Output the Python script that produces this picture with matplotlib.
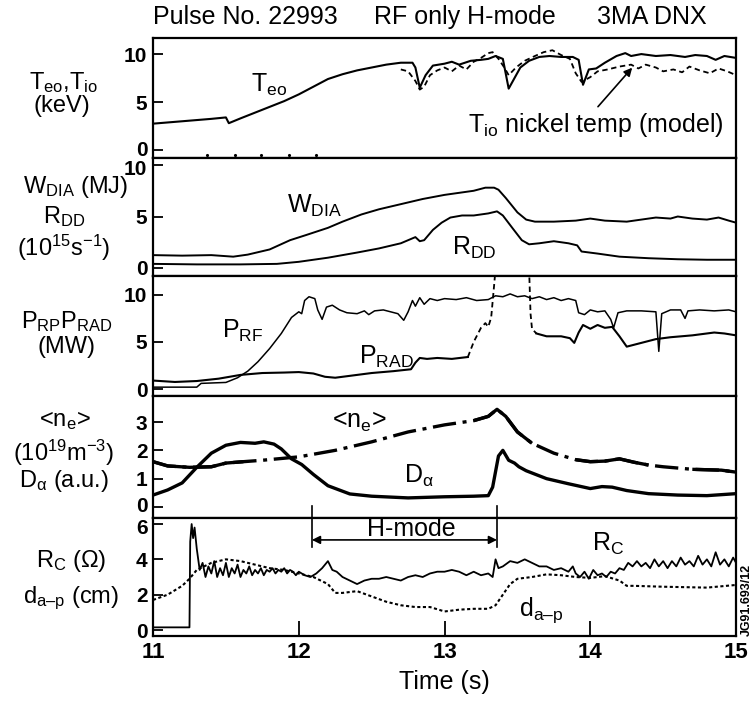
import matplotlib
matplotlib.use("Agg")
import matplotlib.pyplot as plt
from matplotlib.transforms import blended_transform_factory, ScaledTranslation

plt.rcParams['font.family'] = ['Liberation Sans', 'DejaVu Sans']
plt.rcParams['mathtext.fontset'] = 'custom'
plt.rcParams['mathtext.rm'] = 'Liberation Sans'
plt.rcParams['mathtext.it'] = 'Liberation Sans'
plt.rcParams['mathtext.bf'] = 'Liberation Sans:bold'
plt.rcParams['mathtext.default'] = 'regular'

# ---- panel 1: central temperatures (keV) ----
teo_pts = [(11.00, 2.75), (11.20, 3.00), (11.40, 3.25), (11.50, 3.40), (11.52, 2.80),
           (11.60, 3.30), (11.70, 3.90), (11.80, 4.50), (11.90, 5.10), (12.00, 5.80),
           (12.10, 6.60), (12.20, 7.40), (12.30, 7.90), (12.40, 8.30), (12.50, 8.60),
           (12.60, 8.90), (12.70, 9.10), (12.78, 9.10), (12.80, 8.60), (12.83, 6.50),
           (12.87, 7.80), (12.92, 8.80), (13.00, 9.00), (13.05, 9.20), (13.10, 8.90),
           (13.18, 9.30), (13.25, 9.40), (13.30, 9.50), (13.35, 9.80), (13.40, 9.50),
           (13.44, 6.40), (13.48, 7.50), (13.52, 8.60), (13.58, 9.30), (13.65, 9.70),
           (13.72, 9.80), (13.80, 9.70), (13.88, 9.70), (13.92, 9.40), (13.95, 6.80),
           (13.99, 8.40), (14.04, 8.50), (14.10, 9.10), (14.18, 9.80), (14.24, 10.1),
           (14.28, 9.80), (14.35, 10.0), (14.45, 9.80), (14.55, 9.90), (14.65, 9.70),
           (14.72, 9.90), (14.80, 9.80), (14.86, 9.40), (14.92, 9.80), (15.00, 9.60)]
tio_pts = [(12.70, 8.40), (12.75, 8.20), (12.80, 7.20), (12.83, 6.30), (12.86, 6.60),
           (12.90, 7.80), (12.95, 8.30), (13.00, 8.60), (13.05, 8.20), (13.10, 8.80),
           (13.15, 8.40), (13.20, 9.20), (13.25, 9.60), (13.30, 10.1), (13.33, 10.2),
           (13.37, 9.50), (13.41, 8.60), (13.44, 7.80), (13.49, 8.60), (13.55, 9.30),
           (13.62, 9.80), (13.68, 10.2), (13.74, 10.4), (13.80, 9.90), (13.86, 9.50),
           (13.90, 8.00), (13.94, 7.10), (14.00, 7.60), (14.05, 8.20), (14.12, 8.40),
           (14.20, 8.70), (14.28, 8.90), (14.33, 8.50), (14.38, 8.90), (14.45, 8.60),
           (14.50, 8.20), (14.57, 8.40), (14.63, 8.10), (14.68, 8.70), (14.75, 8.30),
           (14.82, 8.00), (14.88, 8.50), (14.94, 8.20), (15.00, 7.80)]
marker_times = [11.37, 11.56, 11.74, 11.93, 12.12]

# ---- panel 2: stored energy and neutron rate ----
wdia_pts = [(11.00, 1.25), (11.20, 1.20), (11.40, 1.25), (11.55, 1.10), (11.65, 1.30),
            (11.80, 1.80), (11.94, 2.70), (12.05, 3.20), (12.20, 3.90), (12.30, 4.50),
            (12.43, 5.20), (12.55, 5.70), (12.70, 6.20), (12.85, 6.70), (13.00, 7.10),
            (13.10, 7.30), (13.20, 7.50), (13.28, 7.80), (13.34, 7.80), (13.37, 7.60),
            (13.42, 6.80), (13.50, 5.40), (13.56, 4.70), (13.62, 4.50), (13.75, 4.50),
            (13.90, 4.60), (14.00, 4.80), (14.10, 4.60), (14.25, 4.50), (14.35, 4.70),
            (14.45, 4.90), (14.55, 4.80), (14.60, 5.00), (14.70, 4.80), (14.80, 4.70),
            (14.88, 4.90), (14.95, 4.60), (15.00, 4.40)]
rdd_pts = [(11.00, 0.40), (11.30, 0.35), (11.60, 0.35), (11.85, 0.40), (12.00, 0.60),
           (12.20, 1.00), (12.40, 1.50), (12.55, 1.90), (12.70, 2.40), (12.80, 3.00),
           (12.83, 2.60), (12.86, 2.70), (12.92, 3.70), (12.98, 4.40), (13.04, 4.90),
           (13.12, 5.10), (13.20, 5.10), (13.30, 5.30), (13.36, 5.50), (13.40, 5.10),
           (13.47, 3.80), (13.53, 2.70), (13.58, 2.30), (13.65, 2.40), (13.75, 2.60),
           (13.85, 2.40), (13.91, 2.20), (13.94, 1.60), (14.05, 1.40), (14.20, 1.10),
           (14.40, 0.95), (14.60, 0.85), (14.80, 0.80), (15.00, 0.80)]

# ---- panel 3: RF and radiated power (MW) ----
prf_pts = [(11.00, 0.20), (11.30, 0.20), (11.33, 0.60), (11.50, 0.70), (11.58, 1.20),
           (11.65, 1.90), (11.72, 2.90), (11.80, 4.30), (11.88, 5.90), (11.95, 7.60),
           (12.00, 8.20), (12.02, 8.00), (12.04, 9.40), (12.07, 9.80), (12.11, 9.60),
           (12.13, 8.40), (12.16, 7.40), (12.19, 8.70), (12.23, 8.90), (12.28, 8.40),
           (12.33, 8.10), (12.40, 8.00), (12.45, 8.30), (12.48, 7.90), (12.52, 8.30),
           (12.58, 8.40), (12.63, 8.20), (12.68, 8.00), (12.72, 7.30), (12.75, 8.20),
           (12.78, 9.40), (12.80, 8.80), (12.83, 9.70), (12.86, 9.00), (12.90, 9.60),
           (12.95, 9.40), (13.00, 9.60), (13.08, 9.50), (13.15, 9.70), (13.22, 9.40),
           (13.30, 9.50), (13.35, 9.90), (13.40, 9.80), (13.45, 10.1), (13.50, 9.80),
           (13.55, 9.90), (13.60, 9.60), (13.65, 9.80), (13.70, 9.50), (13.75, 9.70),
           (13.80, 9.40), (13.85, 9.60), (13.90, 9.40), (13.92, 8.10), (13.96, 7.90),
           (14.00, 8.40), (14.05, 8.20), (14.10, 8.30), (14.14, 7.40), (14.16, 6.50),
           (14.19, 8.10), (14.25, 8.30), (14.35, 8.30), (14.45, 8.20), (14.47, 4.00),
           (14.49, 8.00), (14.55, 8.40), (14.62, 8.40), (14.65, 7.50), (14.67, 8.30),
           (14.75, 8.40), (14.85, 8.30), (14.95, 8.40), (15.00, 8.20)]
prad_pts = [(11.00, 0.90), (11.15, 0.75), (11.30, 0.85), (11.45, 1.10), (11.60, 1.50),
            (11.75, 1.70), (11.90, 1.75), (12.00, 1.80), (12.10, 1.65), (12.18, 1.30),
            (12.25, 1.20), (12.35, 1.40), (12.50, 1.70), (12.65, 1.90), (12.77, 2.10),
            (12.80, 2.80), (12.83, 3.30), (12.88, 3.20), (12.95, 3.30), (13.05, 3.20),
            (13.16, 3.40)]
prad_dash_rise = [(13.16, 3.40), (13.20, 5.00), (13.25, 6.50), (13.28, 7.00), (13.30, 6.60),
                  (13.32, 7.60), (13.34, 11.0), (13.35, 12.8)]
prad_dash_fall = [(13.58, 12.8), (13.59, 8.00), (13.60, 6.40), (13.63, 5.90)]
prad_late_pts = [(13.63, 5.90), (13.70, 5.60), (13.80, 5.60), (13.86, 5.40), (13.89, 4.90),
                 (13.92, 6.00), (13.95, 6.80), (14.00, 6.40), (14.05, 6.80), (14.10, 6.50),
                 (14.15, 6.60), (14.20, 5.60), (14.25, 4.50), (14.35, 4.90), (14.45, 5.30),
                 (14.55, 5.50), (14.70, 5.70), (14.85, 6.00), (14.92, 5.90), (15.00, 5.70)]

# ---- panel 4: line-averaged density and D-alpha ----
ne_pts = [(11.00, 1.60), (11.10, 1.45), (11.25, 1.40), (11.40, 1.42), (11.50, 1.55),
          (11.62, 1.60), (11.75, 1.65), (12.00, 1.77), (12.25, 2.00), (12.50, 2.30),
          (12.75, 2.65), (13.00, 2.90), (13.20, 3.05), (13.30, 3.20), (13.36, 3.45),
          (13.42, 3.20), (13.50, 2.65), (13.60, 2.25), (13.75, 1.90), (13.90, 1.67),
          (14.00, 1.60), (14.10, 1.62), (14.20, 1.70), (14.30, 1.58), (14.40, 1.48),
          (14.50, 1.42), (14.70, 1.33), (14.90, 1.30), (15.00, 1.23)]
# stretches of the density trace that are drawn unbroken
ne_solid_spans = [(11.00, 11.62), (13.20, 13.60), (13.90, 14.40), (14.70, 15.00)]
dalpha_pts = [(11.00, 0.42), (11.10, 0.60), (11.20, 0.85), (11.30, 1.40), (11.40, 1.90),
              (11.50, 2.18), (11.60, 2.28), (11.70, 2.25), (11.76, 2.30), (11.83, 2.22),
              (11.88, 2.05), (11.95, 1.70), (12.02, 1.50), (12.10, 1.15), (12.20, 0.75),
              (12.35, 0.46), (12.50, 0.38), (12.75, 0.32), (13.00, 0.36), (13.20, 0.38),
              (13.30, 0.40), (13.33, 0.70), (13.37, 1.80), (13.40, 2.00), (13.44, 1.65),
              (13.48, 1.55), (13.51, 1.42), (13.56, 1.28), (13.70, 1.00), (13.85, 0.82),
              (14.00, 0.65), (14.08, 0.72), (14.15, 0.70), (14.25, 0.58), (14.40, 0.47),
              (14.60, 0.42), (14.80, 0.40), (15.00, 0.47)]

# ---- panel 5: coupling resistance and antenna-plasma gap ----
rc_pts = [(11.00, 0.15), (11.25, 0.15), (11.255, 5.0), (11.265, 6.0), (11.275, 5.2),
          (11.285, 5.8), (11.30, 4.6), (11.32, 3.4), (11.34, 3.8), (11.36, 3.0),
          (11.38, 3.6), (11.40, 3.2), (11.42, 3.9), (11.44, 3.0), (11.46, 3.5),
          (11.48, 3.1), (11.50, 3.8), (11.52, 3.0), (11.54, 3.5), (11.56, 3.2),
          (11.58, 3.7), (11.60, 3.0), (11.62, 3.4), (11.64, 3.2), (11.66, 3.6),
          (11.68, 3.1), (11.70, 3.4), (11.72, 3.2), (11.74, 3.5), (11.76, 3.1),
          (11.78, 3.4), (11.80, 3.3), (11.82, 3.5), (11.84, 3.2), (11.86, 3.4),
          (11.88, 3.3), (11.90, 3.5), (11.92, 3.2), (11.94, 3.4), (11.96, 3.3),
          (11.98, 3.1), (12.00, 3.3), (12.04, 3.1), (12.08, 3.0), (12.12, 3.2),
          (12.16, 3.5), (12.20, 3.9), (12.23, 3.4), (12.26, 3.3), (12.30, 3.0),
          (12.35, 2.8), (12.40, 2.6), (12.45, 2.8), (12.50, 2.9), (12.55, 2.9),
          (12.60, 3.0), (12.65, 2.9), (12.70, 2.8), (12.75, 3.0), (12.80, 3.1),
          (12.85, 3.0), (12.90, 3.2), (12.95, 3.3), (13.00, 3.3), (13.05, 3.4),
          (13.10, 3.3), (13.15, 3.1), (13.20, 3.3), (13.25, 3.1), (13.30, 3.2),
          (13.33, 3.0), (13.35, 4.0), (13.37, 3.5), (13.40, 3.6), (13.45, 3.9),
          (13.50, 3.8), (13.55, 4.0), (13.60, 3.8), (13.65, 3.6), (13.70, 3.6),
          (13.75, 3.4), (13.80, 3.5), (13.85, 3.3), (13.88, 3.6), (13.90, 3.2),
          (13.93, 3.0), (13.96, 3.3), (13.99, 2.9), (14.02, 3.4), (14.05, 3.1),
          (14.08, 3.2), (14.11, 3.0), (14.14, 3.3), (14.17, 3.2), (14.20, 3.5),
          (14.23, 3.4), (14.26, 3.8), (14.29, 3.6), (14.32, 3.9), (14.35, 3.6),
          (14.38, 3.8), (14.41, 3.5), (14.44, 4.0), (14.47, 3.6), (14.50, 3.9),
          (14.53, 3.5), (14.56, 3.9), (14.59, 3.6), (14.62, 4.1), (14.65, 3.7),
          (14.68, 3.9), (14.71, 3.6), (14.74, 4.2), (14.77, 3.7), (14.80, 4.0),
          (14.83, 3.6), (14.86, 4.4), (14.89, 3.7), (14.92, 4.0), (14.95, 3.6),
          (14.98, 4.1), (15.00, 3.8)]
dap_pts = [(11.00, 1.70), (11.10, 2.00), (11.20, 2.50), (11.25, 2.90), (11.30, 3.40),
           (11.40, 3.80), (11.50, 4.00), (11.60, 3.90), (11.70, 3.70), (11.80, 3.50),
           (11.90, 3.40), (12.00, 3.20), (12.10, 3.00), (12.20, 2.60), (12.25, 2.10),
           (12.30, 2.10), (12.40, 2.20), (12.50, 1.90), (12.60, 1.60), (12.70, 1.40),
           (12.80, 1.30), (12.90, 1.30), (13.00, 1.05), (13.10, 1.15), (13.20, 1.20),
           (13.30, 1.20), (13.35, 1.40), (13.40, 2.00), (13.45, 2.60), (13.50, 2.90),
           (13.60, 3.00), (13.70, 3.15), (13.80, 3.10), (13.90, 3.00), (14.00, 2.95),
           (14.10, 3.05), (14.20, 2.80), (14.25, 2.50), (14.30, 2.50), (14.50, 2.45),
           (14.80, 2.40), (15.00, 2.55)]
hmode_start, hmode_end = 12.09, 13.36

time_ticks = [11, 12, 13, 14, 15]

TICK_FS = 15
LABEL_FS = 17
INNER_FS = 18


def xy(pts):
    return [p[0] for p in pts], [p[1] for p in pts]


fig = plt.figure(figsize=(7.52, 7.02), dpi=100)
left, width = 0.2035, 0.7753
# (bottom, height, ylim, yticks) for each panel, top to bottom
panels = [
    (0.7749, 0.1709, (-0.83, 11.67), [0, 5, 10]),
    (0.6068, 0.1681, (-0.78, 10.68), [0, 5, 10]),
    (0.4359, 0.1709, (-0.74, 12.0), [0, 5, 10]),
    (0.2621, 0.1738, (-0.39, 3.92), [0, 1, 2, 3]),
    (0.0940, 0.1681, (-0.34, 6.34), [0, 2, 4, 6]),
]
axes = []
for bottom, height, ylim, yt in panels:
    ax = fig.add_axes([left, bottom, width, height])
    ax.set_xlim(11, 15)
    ax.set_ylim(*ylim)
    ax.set_yticks(yt, labels=[str(v) for v in yt], fontsize=TICK_FS, fontweight='bold')
    ax.tick_params(axis='y', direction='in', length=7, width=1.3, pad=4)
    ax.set_xticks([])
    for s in ax.spines.values():
        s.set_linewidth(1.6)
    axes.append(ax)
ax1, ax2, ax3, ax4, ax5 = axes

# the stacked panels leave the end tick labels nearly touching; ease them apart
for ax, idx, dy in ((ax1, 0, 2), (ax2, -1, -2), (ax4, 0, 2), (ax5, -1, -2)):
    lbl = ax.get_yticklabels()[idx]
    lbl.set_transform(lbl.get_transform() + ScaledTranslation(0, dy / 100, fig.dpi_scale_trans))

# left-hand quantity labels: (text, axes x, data y)
side_labels = [
    (ax1, [("T$_{eo}$,T$_{io}$", -0.153, 7.0), ("(keV)", -0.157, 4.6)]),
    (ax2, [("W$_{DIA}$ (MJ)", -0.132, 7.9), ("R$_{DD}$", -0.153, 5.0),
           ("(10$^{15}$s$^{-1}$)", -0.153, 2.0)]),
    (ax3, [("P$_{RP}$P$_{RAD}$", -0.148, 7.2), ("(MW)", -0.148, 4.5)]),
    (ax4, [("<n$_e$>", -0.151, 3.05), ("(10$^{19}$m$^{-3}$)", -0.153, 1.9),
           ("D$_{α}$ (a.u.)", -0.153, 0.9)]),
    (ax5, [("R$_C$ (Ω)", -0.141, 3.9), ("d$_{a\u2013p}$ (cm)", -0.141, 1.8)]),
]
for ax, rows in side_labels:
    tr = blended_transform_factory(ax.transAxes, ax.transData)
    for txt, xa, yv in rows:
        ax.text(xa, yv, txt, transform=tr, ha='center', va='center', fontsize=LABEL_FS)

# panel 1
t, v = xy(teo_pts)
ax1.plot(t, v, color='k', lw=1.5)
t, v = xy(tio_pts)
ax1.plot(t, v, color='k', lw=1.3, ls=(0, (3, 2)))
ax1.plot(marker_times, [-0.5] * len(marker_times), 'k.', ms=2.5)
ax1.text(11.67, 6.8, "T$_{eo}$", fontsize=INNER_FS, ha='left', va='center')
ax1.text(13.16, 2.6, "T$_{io}$ nickel temp (model)", fontsize=INNER_FS, ha='left', va='center')
ax1.annotate("", xy=(14.30, 8.8), xytext=(14.04, 4.3),
             arrowprops=dict(arrowstyle='-|>', color='k', lw=1.2, mutation_scale=12))

# panel 2
t, v = xy(wdia_pts)
ax2.plot(t, v, color='k', lw=1.4)
t, v = xy(rdd_pts)
ax2.plot(t, v, color='k', lw=1.4)
ax2.text(11.92, 6.0, "W$_{DIA}$", fontsize=INNER_FS, ha='left', va='center')
ax2.text(13.05, 2.0, "R$_{DD}$", fontsize=INNER_FS, ha='left', va='center')

# panel 3
t, v = xy(prf_pts)
ax3.plot(t, v, color='k', lw=1.1)
t, v = xy(prad_pts)
ax3.plot(t, v, color='k', lw=1.5)
for seg in (prad_dash_rise, prad_dash_fall):
    t, v = xy(seg)
    ax3.plot(t, v, color='k', lw=1.3, ls=(0, (3, 2)))
t, v = xy(prad_late_pts)
ax3.plot(t, v, color='k', lw=1.5)
ax3.text(11.47, 6.2, "P$_{RF}$", fontsize=INNER_FS, ha='left', va='center')
ax3.text(12.41, 3.4, "P$_{RAD}$", fontsize=INNER_FS, ha='left', va='center')

# panel 4: dash-dot density trace with unbroken stretches laid over it
t, v = xy(ne_pts)
ax4.plot(t, v, color='k', lw=2.4, ls=(0, (7, 2, 1.2, 2)))
for t0, t1 in ne_solid_spans:
    span = [p for p in ne_pts if t0 <= p[0] <= t1]
    t, v = xy(span)
    ax4.plot(t, v, color='k', lw=2.4, solid_capstyle='butt')
t, v = xy(dalpha_pts)
ax4.plot(t, v, color='k', lw=2.4)
ax4.text(12.23, 3.0, "<n$_e$>", fontsize=INNER_FS, ha='left', va='center')
ax4.text(12.72, 1.1, "D$_{α}$", fontsize=INNER_FS, ha='left', va='center')

# panel 5
t, v = xy(rc_pts)
ax5.plot(t, v, color='k', lw=1.3)
t, v = xy(dap_pts)
ax5.plot(t, v, color='k', lw=1.5, ls=(0, (1.5, 1.2)))
ax5.text(14.01, 4.9, "R$_C$", fontsize=INNER_FS, ha='left', va='center')
ax5.text(13.51, 1.1, "d$_{a\u2013p}$", fontsize=INNER_FS, ha='left', va='center')

# H-mode interval marker reaching up into the D-alpha panel
for tm in (hmode_start, hmode_end):
    ax5.plot([tm, tm], [4.7, 7.0], color='k', lw=1.2, clip_on=False)
ax5.annotate("", xy=(hmode_start, 5.1), xytext=(hmode_end, 5.1),
             arrowprops=dict(arrowstyle='<|-|>', color='k', lw=1.2, mutation_scale=12,
                             shrinkA=0, shrinkB=0))
ax5.text(12.77, 5.7, "H-mode", fontsize=INNER_FS, ha='center', va='center')

ax5.set_xticks(time_ticks, labels=[str(v) for v in time_ticks], fontsize=16, fontweight='bold')
ax5.tick_params(axis='x', direction='in', length=11, width=1.3, pad=4)
ax5.set_xlabel("Time (s)", fontsize=INNER_FS, labelpad=5)

fig.text(0.326, 0.976, "Pulse No. 22993", fontsize=18, ha='center', va='center')
fig.text(0.618, 0.976, "RF only H-mode", fontsize=18, ha='center', va='center')
fig.text(0.867, 0.976, "3MA DNX", fontsize=18, ha='center', va='center')
fig.text(0.993, 0.145, "JG91.693/12", fontsize=9, fontweight='bold', rotation=90,
         ha='center', va='center')

fig.savefig("out.png", dpi=100)
